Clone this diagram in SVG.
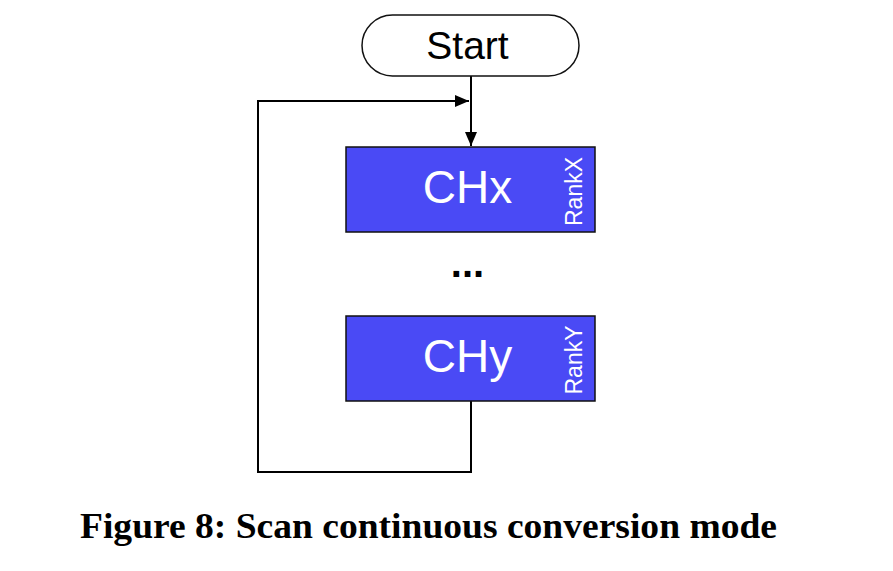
<svg xmlns="http://www.w3.org/2000/svg" width="893" height="571" viewBox="0 0 893 571">
<style>
.box{fill:#4a4af5;stroke:#111;stroke-width:1.5}
.lbl{font-family:"Liberation Sans",Arial,sans-serif;fill:#fff}
.edge{fill:none;stroke:#000;stroke-width:2}
</style>
<defs>
<marker id="ah" markerWidth="14" markerHeight="12" refX="14" refY="6" orient="auto" markerUnits="userSpaceOnUse">
<path d="M0,0 L14,6 L0,12 Z" fill="#000"/>
</marker>
</defs>
<rect width="893" height="571" fill="#fff"/>
<g id="connectors">
<path class="edge" d="M471,76 L471,146" marker-end="url(#ah)"/>
<path class="edge" d="M471,401 L471,472 L258,472 L258,101 L469,101" marker-end="url(#ah)"/>
</g>
<g id="start">
<rect x="362" y="15" width="217" height="61" rx="30.5" ry="30.5" fill="#fff" stroke="#111" stroke-width="1.5"/>
<text x="467.5" y="59" text-anchor="middle" font-family="Liberation Sans,Arial,sans-serif" font-size="39" fill="#000">Start</text>
</g>
<g id="chx">
<rect class="box" x="346" y="147" width="249" height="85"/>
<text class="lbl" x="467.5" y="203" text-anchor="middle" font-size="46">CHx</text>
<text class="lbl" transform="translate(582,191.5) rotate(-90)" text-anchor="middle" font-size="23">RankX</text>
</g>
<g id="dots">
<text x="467.5" y="277" text-anchor="middle" font-family="Liberation Sans,Arial,sans-serif" font-weight="bold" font-size="40" fill="#000">...</text>
</g>
<g id="chy">
<rect class="box" x="346" y="316" width="249" height="85"/>
<text class="lbl" x="467.5" y="372" text-anchor="middle" font-size="46">CHy</text>
<text class="lbl" transform="translate(582,360) rotate(-90)" text-anchor="middle" font-size="23">RankY</text>
</g>
<text x="80" y="538" font-family="Liberation Serif,Times New Roman,serif" font-weight="bold" font-size="35" textLength="697" lengthAdjust="spacingAndGlyphs" fill="#000">Figure 8: Scan continuous conversion mode</text>
</svg>
